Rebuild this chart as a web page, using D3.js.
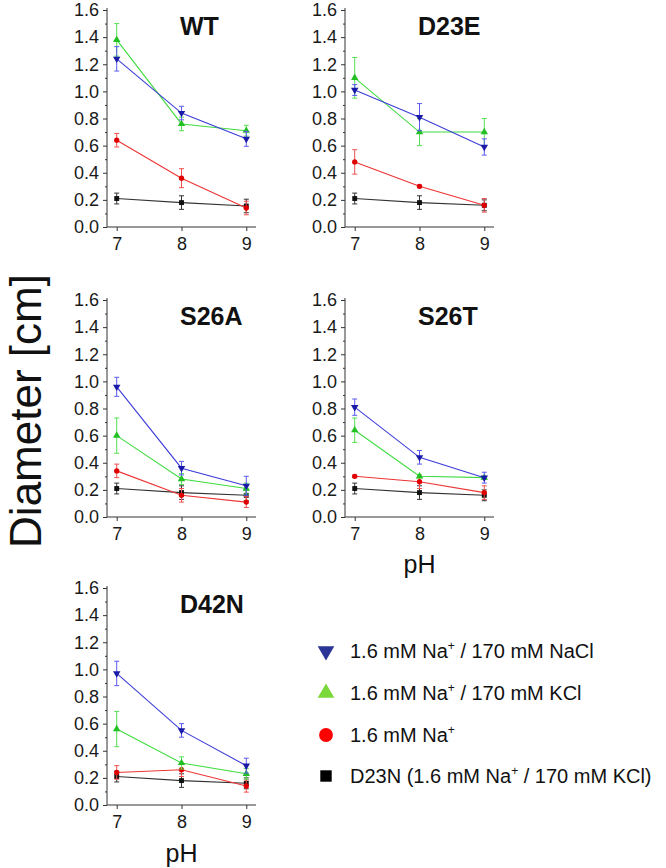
<!DOCTYPE html>
<html><head><meta charset="utf-8">
<script src="https://cdn.jsdelivr.net/npm/d3@7"></script>
<style>
html,body{margin:0;padding:0;background:#fff;}
svg{display:block;font-family:"Liberation Sans",Arial,Helvetica,sans-serif;}
</style></head>
<body><svg id="c" width="666" height="868"></svg>
<script>
// ---- data ----
const pH = [7, 8, 9];
const panelNames = ["WT", "D23E", "S26A", "S26T", "D42N"];
const yTicks = [0.0, 0.2, 0.4, 0.6, 0.8, 1.0, 1.2, 1.4, 1.6];
const seriesLabels = ["1.6 mM Na⁺ / 170 mM NaCl", "1.6 mM Na⁺ / 170 mM KCl", "1.6 mM Na⁺", "D23N (1.6 mM Na⁺ / 170 mM KCl)"];
// per panel (WT, D23E, S26A, S26T, D42N), values at pH 7, 8, 9
const naclMean = [[1.24,0.84,0.65],[1.01,0.81,0.59],[0.96,0.36,0.23],[0.81,0.44,0.29],[0.97,0.55,0.29]];
const naclErr  = [[0.09,0.05,0.055],[0.04,0.10,0.06],[0.07,0.05,0.07],[0.06,0.05,0.04],[0.09,0.05,0.055]];
const kclMean  = [[1.38,0.76,0.71],[1.10,0.70,0.70],[0.60,0.28,0.21],[0.64,0.30,0.29],[0.56,0.31,0.23]];
const kclErr   = [[0.12,0.05,0.04],[0.15,0.10,0.10],[0.13,0.04,0.04],[0.09,0.01,0.01],[0.13,0.045,0.04]];
const naMean   = [[0.64,0.36,0.14],[0.48,0.30,0.16],[0.34,0.16,0.11],[0.30,0.26,0.18],[0.24,0.26,0.14]];
const naErr    = [[0.05,0.07,0.05],[0.09,0.01,0.05],[0.05,0.05,0.04],[0.01,0.05,0.05],[0.05,0.05,0.045]];
const d23nMean = [[0.21,0.18,0.155],[0.21,0.18,0.16],[0.21,0.18,0.16],[0.21,0.18,0.16],[0.21,0.18,0.16]];
const d23nErr  = [[0.04,0.05,0.05],[0.04,0.05,0.04],[0.04,0.05,0.04],[0.04,0.05,0.04],[0.04,0.05,0.04]];

// ---- styling ----
const svg = d3.select("#c");
const W = 149, H = 217;
const pos = [[107,10],[345,10],[107,300],[345,300],[107,588]];
const styles = [
  {line:"#3d3dd8", mark:"#1a1aa8", err:"#5a5af0", sym:d3.symbolTriangle, rot:180, legend:"#2b3595"},
  {line:"#3fdc3f", mark:"#22c022", err:"#55e055", sym:d3.symbolTriangle, rot:0, legend:"#7ad83a"},
  {line:"#ee3434", mark:"#e00000", err:"#f05050", sym:d3.symbolCircle, rot:0, legend:"#ff0000"},
  {line:"#333333", mark:"#111111", err:"#333333", sym:d3.symbolSquare, rot:0, legend:"#000000"}
];
const means = [naclMean, kclMean, naMean, d23nMean];
const errs = [naclErr, kclErr, naErr, d23nErr];
const drawOrder = [3, 2, 1, 0];

const x = d3.scaleLinear().domain([6.85, 9.15]).range([0, W]);
const y = d3.scaleLinear().domain([0, 1.6]).range([H, 0]);

panelNames.forEach((name, p) => {
  const g = svg.append("g").attr("transform", `translate(${pos[p][0]},${pos[p][1]})`);
  const ya = g.append("g").call(d3.axisLeft(y).tickValues(yTicks).tickFormat(d3.format(".1f")).tickSize(4).tickPadding(4));
  ya.append("g").call(d3.axisLeft(y).tickValues(d3.range(0.1, 1.6, 0.2)).tickFormat("").tickSize(2)).select(".domain").remove();
  ya.select(".domain").attr("d", `M0,${H}V${y(1.6)-2}`);
  const xa = g.append("g").attr("transform", `translate(0,${H})`).call(d3.axisBottom(x).tickValues(pH).tickFormat(d3.format("d")).tickSize(4).tickPadding(6));
  xa.select(".domain").attr("d", `M0,0H${W}`);
  g.selectAll(".domain").attr("stroke", "#333");
  g.selectAll(".tick line").attr("stroke", "#333");
  g.selectAll(".tick text").attr("font-size", 18).attr("fill", "#1a1a1a").attr("font-family", '"Liberation Sans",Arial,sans-serif');

  g.append("text").attr("x", 73).attr("y", 25).attr("font-size", 25).attr("font-weight", "bold").attr("fill", "#111").text(name);

  drawOrder.forEach(s => {
    const st = styles[s];
    const m = means[s][p], e = errs[s][p];
    const pts = pH.map((v, i) => ({x: v, y: m[i], e: e[i]}));
    g.append("path").datum(pts).attr("fill", "none").attr("stroke", st.line).attr("stroke-width", 1.1)
      .attr("d", d3.line().x(d => x(d.x)).y(d => y(d.y)));
    const eb = g.append("g").attr("stroke", st.err).attr("stroke-width", 1);
    pts.forEach(d => {
      const cx = x(d.x), t = y(d.y + d.e), b = y(d.y - d.e);
      eb.append("line").attr("x1", cx).attr("x2", cx).attr("y1", t).attr("y2", b);
      eb.append("line").attr("x1", cx-2.5).attr("x2", cx+2.5).attr("y1", t).attr("y2", t);
      eb.append("line").attr("x1", cx-2.5).attr("x2", cx+2.5).attr("y1", b).attr("y2", b);
    });
    g.append("g").selectAll("path").data(pts).join("path")
      .attr("transform", d => `translate(${x(d.x)},${y(d.y)}) rotate(${st.rot})`)
      .attr("d", d3.symbol().type(st.sym).size(s === 2 ? 22 : 24)).attr("fill", st.mark);
  });
});

// axis titles
svg.append("text").attr("transform", "translate(41,411) rotate(-90)").attr("text-anchor", "middle")
  .attr("font-size", 44).attr("fill", "#111").text("Diameter [cm]");
svg.append("text").attr("x", pos[3][0] + x(8)).attr("y", 573).attr("text-anchor", "middle").attr("font-size", 25).attr("fill", "#111").text("pH");
svg.append("text").attr("x", pos[4][0] + x(8)).attr("y", 862).attr("text-anchor", "middle").attr("font-size", 25).attr("fill", "#111").text("pH");

// legend
const legY = [651, 693, 735, 776];
seriesLabels.forEach((lab, i) => {
  const st = styles[i];
  const sz = i === 2 ? 150 : (i === 3 ? 130 : 120);
  svg.append("path").attr("transform", `translate(326,${legY[i]}) rotate(${st.rot})`)
    .attr("d", d3.symbol().type(st.sym).size(sz)).attr("fill", st.legend);
  const t = svg.append("text").attr("x", 350).attr("y", legY[i] + 7).attr("font-size", 20).attr("fill", "#111");
  const parts = lab.split("⁺");
  parts.forEach((pt, k) => {
    const ts = t.append("tspan").text(pt);
    if (k > 0) ts.attr("dy", 8);
    if (k < parts.length - 1) t.append("tspan").attr("dy", -8).attr("font-size", 12).text("+");
  });
});
</script></body></html>
